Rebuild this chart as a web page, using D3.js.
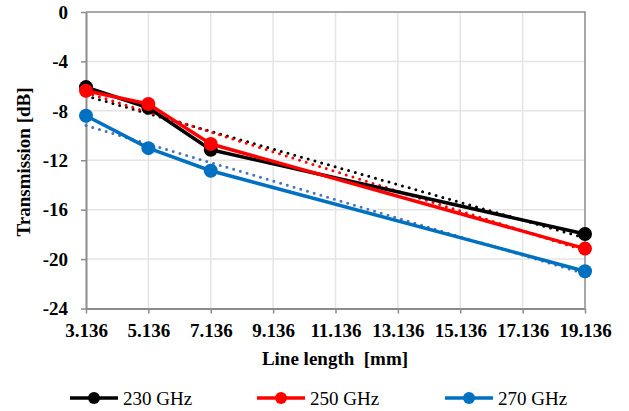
<!DOCTYPE html>
<html>
<head>
<meta charset="utf-8">
<script src="https://cdn.jsdelivr.net/npm/d3@7"></script>
<style>
  html, body { margin: 0; padding: 0; background: #fff; }
  svg { display: block; }
</style>
</head>
<body>
<svg id="chart" width="629" height="411" font-family="'Liberation Serif', 'Times New Roman', serif"></svg>
<script>
// Line lengths in mm
const lengths = [3.136, 5.136, 7.136, 19.136];
// Measured transmission (dB) per frequency
const s230 = [-6.08, -7.75, -11.15, -17.97];
const s250 = [-6.38, -7.45, -10.68, -19.15];
const s270 = [-8.40, -11.02, -12.85, -20.98];
const seriesNames = ["230 GHz", "250 GHz", "270 GHz"];
const seriesColors = ["#000000", "#ff0000", "#0070c0"];
const trendColors = ["#000000", "#ff0000", "#4472c4"];
const xTicks = [3.136, 5.136, 7.136, 9.136, 11.136, 13.136, 15.136, 17.136, 19.136];
const yTicks = [0, -4, -8, -12, -16, -20, -24];

const seriesValues = [s230, s250, s270];
const FONT = "'Liberation Serif', 'Times New Roman', serif";

const svg = d3.select("#chart");
const plot = { left: 86, top: 12, right: 585, bottom: 308.5 };

const x = d3.scaleLinear().domain([3.136, 19.136]).range([plot.left, plot.right]);
const y = d3.scaleLinear().domain([-24, 0]).range([plot.bottom, plot.top]);

// Gridlines
svg.append("g")
  .selectAll("line")
  .data(xTicks.slice(1, -1))
  .join("line")
  .attr("x1", d => x(d)).attr("x2", d => x(d))
  .attr("y1", plot.top).attr("y2", plot.bottom)
  .attr("stroke", "#e4e4e4").attr("stroke-width", 1.5);
svg.append("g")
  .selectAll("line")
  .data(yTicks.slice(1, -1))
  .join("line")
  .attr("x1", plot.left).attr("x2", plot.right)
  .attr("y1", d => y(d)).attr("y2", d => y(d))
  .attr("stroke", "#e4e4e4").attr("stroke-width", 1.5);

// Plot border (top and right)
svg.append("path")
  .attr("d", `M${plot.left},${plot.top}H${plot.right}V${plot.bottom}`)
  .attr("fill", "none").attr("stroke", "#8c8c8c").attr("stroke-width", 1.5);

// Axes
const xAxis = svg.append("g")
  .attr("transform", `translate(0,${plot.bottom})`)
  .call(d3.axisBottom(x).tickValues(xTicks).tickFormat(d3.format(".3f"))
    .tickSizeInner(5).tickSizeOuter(0).tickPadding(10));
const yAxis = svg.append("g")
  .attr("transform", `translate(${plot.left},0)`)
  .call(d3.axisLeft(y).tickValues(yTicks).tickFormat(d => String(d))
    .tickSizeInner(5).tickSizeOuter(0).tickPadding(13));

[xAxis, yAxis].forEach(g => {
  g.attr("font-family", null).attr("font-size", null);
  g.select(".domain").attr("stroke", "#8c8c8c").attr("stroke-width", 2);
  g.selectAll(".tick line").attr("stroke", "#8c8c8c").attr("stroke-width", 1.5);
  g.selectAll(".tick text")
    .attr("fill", "#000")
    .attr("font-family", FONT)
    .attr("font-size", 19)
    .attr("font-weight", "bold");
});
yAxis.selectAll(".tick text").attr("dy", "0.33em");

// Axis titles
svg.append("text")
  .attr("x", 335).attr("y", 365)
  .attr("text-anchor", "middle")
  .attr("font-family", FONT)
  .attr("font-size", 19).attr("font-weight", "bold")
  .attr("xml:space", "preserve")
  .text("Line length  [mm]");
svg.append("text")
  .attr("transform", "translate(30,162) rotate(-90)")
  .attr("text-anchor", "middle")
  .attr("font-family", FONT)
  .attr("font-size", 19).attr("font-weight", "bold")
  .text("Transmission [dB]");

// Linear trend lines (least squares fit)
function linearFit(xs, ys) {
  const mx = d3.mean(xs), my = d3.mean(ys);
  const sxy = d3.sum(xs, (v, i) => (v - mx) * (ys[i] - my));
  const sxx = d3.sum(xs, v => (v - mx) * (v - mx));
  const m = sxy / sxx;
  return v => my + m * (v - mx);
}

const lineGen = d3.line().x(d => x(d[0])).y(d => y(d[1]));

seriesValues.forEach((vals, i) => {
  const f = linearFit(lengths, vals);
  const x0 = lengths[0], x1 = lengths[lengths.length - 1];
  svg.append("path")
    .datum([[x0, f(x0)], [x1, f(x1)]])
    .attr("d", lineGen)
    .attr("fill", "none")
    .attr("stroke", trendColors[i])
    .attr("stroke-width", 3)
    .attr("stroke-linecap", "round")
    .attr("stroke-dasharray", "0 7");
});

// Data series
seriesValues.forEach((vals, i) => {
  const pts = lengths.map((l, k) => [l, vals[k]]);
  svg.append("path")
    .datum(pts)
    .attr("d", lineGen)
    .attr("fill", "none")
    .attr("stroke", seriesColors[i])
    .attr("stroke-width", 3.5)
    .attr("stroke-linejoin", "round");
  svg.append("g")
    .selectAll("circle")
    .data(pts)
    .join("circle")
    .attr("cx", d => x(d[0])).attr("cy", d => y(d[1]))
    .attr("r", 7)
    .attr("fill", seriesColors[i]);
});

// Legend
const legendX = [70, 257, 445];
const legendY = 398;
seriesNames.forEach((name, i) => {
  const g = svg.append("g").attr("transform", `translate(${legendX[i]},${legendY})`);
  g.append("line").attr("x1", 0).attr("x2", 48).attr("y1", 0).attr("y2", 0)
    .attr("stroke", seriesColors[i]).attr("stroke-width", 3.5);
  g.append("circle").attr("cx", 24).attr("cy", 0).attr("r", 6).attr("fill", seriesColors[i]);
  g.append("text").attr("x", 53).attr("y", 6.5)
    .attr("font-family", FONT)
    .attr("font-size", 19)
    .text(name);
});
</script>
</body>
</html>
